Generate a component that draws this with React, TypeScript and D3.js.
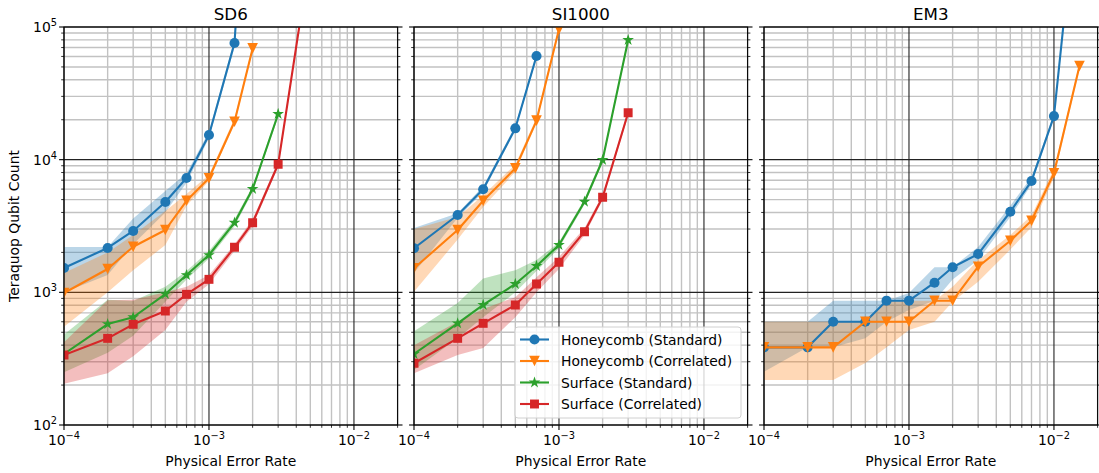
import React from "react";
import * as d3 from "d3";

// Physical error rates sampled in every noise model
const errorRates = [1e-4, 2e-4, 3e-4, 5e-4, 7e-4, 1e-3, 1.5e-3, 2e-3, 3e-3, 5e-3, 7e-3, 1e-2, 1.5e-2];

const panelTitles = ["SD6", "SI1000", "EM3"];
const seriesNames = ["Honeycomb (Standard)", "Honeycomb (Correlated)", "Surface (Standard)", "Surface (Correlated)"];
const seriesColors = ["#1f77b4", "#ff7f0e", "#2ca02c", "#d62728"];
const seriesMarkers = ["circle", "triangleDown", "star", "square"];

const xTickLabels = ["-4", "-3", "-2"];
const yTickLabels = ["2", "3", "4", "5"];

// SD6
const sd6HoneyStd = [1525, 2160, 2900, 4800, 7280, 15350, 75700, 1.1e7];
const sd6HoneyStdLo = [1000, 1350, 2300, 4000, 6700, 14500, 70000, 1.0e7];
const sd6HoneyStdHi = [2200, 2200, 3600, 5800, 7900, 16200, 81000, 1.2e7];
const sd6HoneyCor = [988, 1500, 2208, 2950, 4900, 7240, 19300, 69000];
const sd6HoneyCorLo = [550, 1000, 1470, 2270, 4500, 6900, 18500, 66000];
const sd6HoneyCorHi = [1400, 2000, 2700, 4100, 5500, 7700, 20500, 72000];
const sd6SurfStd = [343, 577, 649, 971, 1350, 1911, 3350, 6010, 22100];
const sd6SurfStdLo = [250, 350, 470, 850, 1250, 1800, 3150, 5700, 21000];
const sd6SurfStdHi = [480, 880, 860, 1100, 1450, 2050, 3550, 6300, 23000];
const sd6SurfCor = [337, 450, 574, 723, 966, 1253, 2185, 3350, 9230, 350000];
const sd6SurfCorLo = [205, 245, 330, 520, 850, 1150, 2050, 3150, 8800, 330000];
const sd6SurfCorHi = [420, 870, 880, 1000, 1100, 1350, 2300, 3550, 9700, 370000];

// SI1000
const si1000HoneyStd = [2148, 3830, 5980, 17230, 60400];
const si1000HoneyStdLo = [1400, 3650, 5700, 16500, 58000];
const si1000HoneyStdHi = [3050, 3950, 6300, 18000, 63000];
const si1000HoneyCor = [1518, 2950, 4900, 8600, 19700, 96000];
const si1000HoneyCorLo = [1010, 2500, 4400, 8100, 18800, 92000];
const si1000HoneyCorHi = [3000, 3700, 5400, 9200, 20800, 100000];
const si1000SurfStd = [343, 584, 803, 1156, 1580, 2274, 4820, 9940, 79800];
const si1000SurfStdLo = [260, 450, 650, 1000, 1450, 2150, 4600, 9500, 77000];
const si1000SurfStdHi = [510, 830, 1270, 1470, 1750, 2380, 5050, 10400, 83000];
const si1000SurfCor = [292, 450, 584, 803, 1156, 1683, 2865, 5200, 22600];
const si1000SurfCorLo = [245, 337, 380, 650, 1000, 1500, 2700, 4950, 21500];
const si1000SurfCorHi = [400, 600, 750, 920, 1300, 1850, 3050, 5450, 23700];

// EM3 (honeycomb only)
const em3HoneyStd = [385, 385, 600, 600, 865, 865, 1182, 1544, 1944, 4050, 6900, 21300, 1.5e6];
const em3HoneyStdLo = [252, 385, 385, 450, 600, 735, 865, 1250, 1750, 3700, 6500, 20500, 1.4e6];
const em3HoneyStdHi = [600, 600, 865, 865, 865, 990, 1544, 1544, 2200, 4500, 7400, 22200, 1.6e6];
const em3HoneyCor = [385, 385, 385, 600, 600, 600, 865, 865, 1560, 2450, 3465, 7890, 50800];
const em3HoneyCorLo = [218, 218, 218, 293, 385, 520, 600, 850, 1200, 2100, 3100, 7300, 48000];
const em3HoneyCorHi = [600, 600, 600, 600, 865, 865, 865, 1100, 1750, 2700, 3800, 8500, 53500];

type Series = { idx: number; values: number[]; lo: number[]; hi: number[] };

const panels: Series[][] = [
  [
    { idx: 0, values: sd6HoneyStd, lo: sd6HoneyStdLo, hi: sd6HoneyStdHi },
    { idx: 1, values: sd6HoneyCor, lo: sd6HoneyCorLo, hi: sd6HoneyCorHi },
    { idx: 2, values: sd6SurfStd, lo: sd6SurfStdLo, hi: sd6SurfStdHi },
    { idx: 3, values: sd6SurfCor, lo: sd6SurfCorLo, hi: sd6SurfCorHi },
  ],
  [
    { idx: 0, values: si1000HoneyStd, lo: si1000HoneyStdLo, hi: si1000HoneyStdHi },
    { idx: 1, values: si1000HoneyCor, lo: si1000HoneyCorLo, hi: si1000HoneyCorHi },
    { idx: 2, values: si1000SurfStd, lo: si1000SurfStdLo, hi: si1000SurfStdHi },
    { idx: 3, values: si1000SurfCor, lo: si1000SurfCorLo, hi: si1000SurfCorHi },
  ],
  [
    { idx: 0, values: em3HoneyStd, lo: em3HoneyStdLo, hi: em3HoneyStdHi },
    { idx: 1, values: em3HoneyCor, lo: em3HoneyCorLo, hi: em3HoneyCorHi },
  ],
];

const W = 1099;
const H = 473;
const FONT = "DejaVu Sans, sans-serif";
const panelLefts = [64, 414, 764];
const panelWidth = 333.6;
const top = 27;
const bottom = 425;

function markerPath(kind: string): string {
  if (kind === "circle") return d3.symbol(d3.symbolCircle, 80)()!;
  if (kind === "square") return d3.symbol(d3.symbolSquare, 80)()!;
  if (kind === "star") return d3.symbol(d3.symbolStar, 42)()!;
  const r = 5.3;
  return `M0,${r}L${-r},${-r}L${r},${-r}Z`;
}

function Pow({ base, exp }: { base: string; exp: string }) {
  return (
    <>
      {base}
      <tspan fontSize={9.8} dy={-6}>
        {exp.replace("-", "\u2212")}
      </tspan>
    </>
  );
}

function Panel({ pi }: { pi: number }) {
  const x0 = panelLefts[pi];
  const x = d3.scaleLog().domain([1e-4, 2e-2]).range([x0, x0 + panelWidth]);
  const y = d3.scaleLog().domain([1e2, 1e5]).range([bottom, top]);

  const xMajor = [1e-4, 1e-3, 1e-2];
  const xMinor: number[] = [];
  for (const k of [1e-4, 1e-3, 1e-2]) for (let d = 2; d <= 9; d++) if (d * k <= 2e-2 + 1e-12) xMinor.push(d * k);
  const yMajor = [1e2, 1e3, 1e4, 1e5];
  const yMinor: number[] = [];
  for (const k of [1e2, 1e3, 1e4]) for (let d = 2; d <= 9; d++) yMinor.push(d * k);

  const clipId = `clip-${pi}`;
  const series = panels[pi];

  const line = d3
    .line<[number, number]>()
    .x((d) => x(d[0]))
    .y((d) => y(d[1]));
  const area = d3
    .area<[number, number, number]>()
    .x((d) => x(d[0]))
    .y0((d) => y(d[1]))
    .y1((d) => y(d[2]));

  const right = x0 + panelWidth;

  return (
    <g>
      <defs>
        <clipPath id={clipId}>
          <rect x={x0} y={top} width={panelWidth} height={bottom - top} />
        </clipPath>
      </defs>
      {/* grid */}
      <g>
        {xMinor.map((v) => (
          <line key={"xm" + v} x1={x(v)} x2={x(v)} y1={top} y2={bottom} stroke="#c2c2c2" strokeWidth={1.4} />
        ))}
        {yMinor.map((v) => (
          <line key={"ym" + v} x1={x0} x2={right} y1={y(v)} y2={y(v)} stroke="#c2c2c2" strokeWidth={1.4} />
        ))}
        {xMajor.map((v) => (
          <line key={"xM" + v} x1={x(v)} x2={x(v)} y1={top} y2={bottom} stroke="#222" strokeWidth={1.1} />
        ))}
        {yMajor.map((v) => (
          <line key={"yM" + v} x1={x0} x2={right} y1={y(v)} y2={y(v)} stroke="#222" strokeWidth={1.1} />
        ))}
      </g>
      {/* uncertainty bands */}
      <g clipPath={`url(#${clipId})`}>
        {series.map((s) => (
          <path
            key={"band" + s.idx}
            d={area(s.values.map((_, i) => [errorRates[i], s.lo[i], s.hi[i]] as [number, number, number]))!}
            fill={seriesColors[s.idx]}
            fillOpacity={0.3}
          />
        ))}
        {series.map((s) => (
          <g key={"line" + s.idx}>
            <path
              d={line(s.values.map((v, i) => [errorRates[i], v] as [number, number]))!}
              fill="none"
              stroke={seriesColors[s.idx]}
              strokeWidth={2.1}
              strokeLinejoin="round"
            />
            {s.values.map((v, i) => (
              <path
                key={i}
                d={markerPath(seriesMarkers[s.idx])}
                transform={`translate(${x(errorRates[i])},${y(v)})`}
                fill={seriesColors[s.idx]}
              />
            ))}
          </g>
        ))}
      </g>
      {/* spines */}
      <rect x={x0} y={top} width={panelWidth} height={bottom - top} fill="none" stroke="#000" strokeWidth={1.1} />
      {/* x ticks */}
      {xMajor.map((v) => (
        <line key={"xt" + v} x1={x(v)} x2={x(v)} y1={bottom} y2={bottom + 4.9} stroke="#000" strokeWidth={1.1} />
      ))}
      {xMinor.map((v) => (
        <line key={"xtm" + v} x1={x(v)} x2={x(v)} y1={bottom} y2={bottom + 2.8} stroke="#000" strokeWidth={0.8} />
      ))}
      {xMajor.map((v, i) => (
        <text key={"xl" + v} x={x(v)} y={bottom + 20} textAnchor="middle" fontFamily={FONT} fontSize={13.9} fill="#000">
          <Pow base="10" exp={xTickLabels[i]} />
        </text>
      ))}
      {/* y ticks on both sides */}
      {[x0, right].map((sx, side) => (
        <g key={"ys" + side}>
          {yMajor.map((v) => (
            <line
              key={"yt" + v}
              x1={sx}
              x2={side === 0 ? sx - 4.9 : sx + 4.9}
              y1={y(v)}
              y2={y(v)}
              stroke="#000"
              strokeWidth={1.1}
            />
          ))}
          {yMinor.map((v) => (
            <line
              key={"ytm" + v}
              x1={sx}
              x2={side === 0 ? sx - 2.8 : sx + 2.8}
              y1={y(v)}
              y2={y(v)}
              stroke="#000"
              strokeWidth={0.8}
            />
          ))}
        </g>
      ))}
      {pi === 0 &&
        yMajor.map((v, i) => (
          <text key={"yl" + v} x={x0 - 7} y={y(v) + 5} textAnchor="end" fontFamily={FONT} fontSize={13.9} fill="#000">
            <Pow base="10" exp={yTickLabels[i]} />
          </text>
        ))}
      <text x={x0 + panelWidth / 2} y={466} textAnchor="middle" fontFamily={FONT} fontSize={13.9} fill="#000">
        Physical Error Rate
      </text>
      <text x={x0 + panelWidth / 2} y={20} textAnchor="middle" fontFamily={FONT} fontSize={16.7} fill="#000">
        {panelTitles[pi]}
      </text>
    </g>
  );
}

function Legend() {
  const lx = 515;
  const ly = 327;
  const rowY = [339.5, 361, 382.5, 404];
  return (
    <g>
      <rect x={lx} y={ly} width={226} height={91} rx={3} fill="#fff" fillOpacity={0.8} stroke="#d0d0d0" strokeWidth={1} />
      {seriesNames.map((name, i) => (
        <g key={name}>
          <line x1={520} x2={549} y1={rowY[i]} y2={rowY[i]} stroke={seriesColors[i]} strokeWidth={2.1} />
          <path d={markerPath(seriesMarkers[i])} transform={`translate(534.5,${rowY[i]})`} fill={seriesColors[i]} />
          <text x={561} y={rowY[i] + 5} fontFamily={FONT} fontSize={13.9} fill="#000">
            {name}
          </text>
        </g>
      ))}
    </g>
  );
}

export default function App() {
  return (
    <div style={{ position: "absolute", left: 0, top: 0 }}>
      <svg width={W} height={H} style={{ display: "block", background: "#fff" }}>
        <rect width={W} height={H} fill="#fff" />
        {[0, 1, 2].map((pi) => (
          <Panel key={pi} pi={pi} />
        ))}
        <text
          transform={`translate(19,226) rotate(-90)`}
          textAnchor="middle"
          fontFamily={FONT}
          fontSize={13.9}
          fill="#000"
        >
          Teraquop Qubit Count
        </text>
        <Legend />
      </svg>
    </div>
  );
}
